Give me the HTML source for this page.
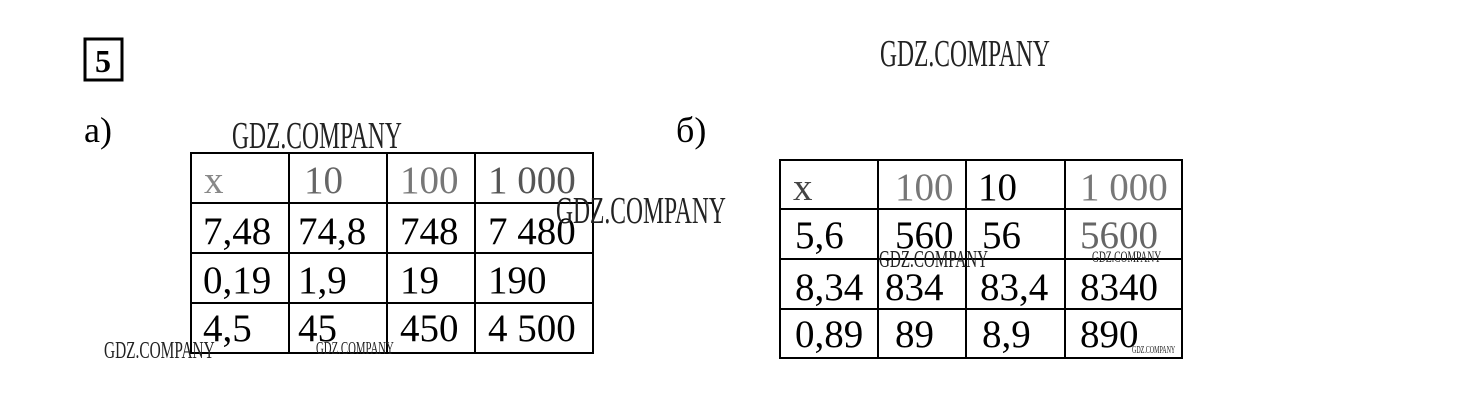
<!DOCTYPE html>
<html><head><meta charset="utf-8"><style>
html,body{margin:0;padding:0;background:#fff;width:1460px;height:407px;overflow:hidden}
svg text{font-family:"Liberation Serif",serif}
.w{font-family:"Liberation Sans",sans-serif;fill:#222}
</style></head><body>
<svg width="1460" height="407" xmlns="http://www.w3.org/2000/svg">
<rect x="85" y="39" width="37" height="41" fill="none" stroke="#000" stroke-width="3"/>
<text x="103" y="72" font-size="32" font-weight="bold" text-anchor="middle">5</text>
<text x="84" y="142" font-size="36">а)</text>
<text x="676" y="142" font-size="36">б)</text>
<g stroke="#000" stroke-width="2" fill="none">
<rect x="191" y="153" width="402" height="200"/>
<line x1="191" y1="203" x2="593" y2="203"/><line x1="191" y1="253" x2="593" y2="253"/><line x1="191" y1="303" x2="593" y2="303"/>
<line x1="289" y1="153" x2="289" y2="353"/><line x1="387" y1="153" x2="387" y2="353"/><line x1="475" y1="153" x2="475" y2="353"/>
<rect x="780" y="160" width="402" height="198"/>
<line x1="780" y1="209" x2="1182" y2="209"/><line x1="780" y1="259" x2="1182" y2="259"/><line x1="780" y1="309" x2="1182" y2="309"/>
<line x1="878" y1="160" x2="878" y2="358"/><line x1="966" y1="160" x2="966" y2="358"/><line x1="1065" y1="160" x2="1065" y2="358"/>
</g>
<g font-size="39">
<text x="204" y="193" fill="#888">x</text><text x="304" y="193" fill="#666">10</text><text x="400" y="193" fill="#777">100</text><text x="488" y="193" fill="#555">1 000</text>
<text x="203" y="244">7,48</text><text x="298" y="244">74,8</text><text x="400" y="244">748</text><text x="488" y="244">7 480</text>
<text x="203" y="293">0,19</text><text x="298" y="293">1,9</text><text x="400" y="293">19</text><text x="488" y="293">190</text>
<text x="203" y="341">4,5</text><text x="298" y="341">45</text><text x="400" y="341">450</text><text x="488" y="341">4 500</text>
<text x="793" y="200" fill="#444">x</text><text x="895" y="200" fill="#777">100</text><text x="978" y="200">10</text><text x="1080" y="200" fill="#777">1 000</text>
<text x="795" y="248">5,6</text><text x="895" y="248">560</text><text x="982" y="248">56</text><text x="1080" y="248" fill="#666">5600</text>
<text x="795" y="300">8,34</text><text x="885" y="300">834</text><text x="980" y="300">83,4</text><text x="1080" y="300">8340</text>
<text x="795" y="347">0,89</text><text x="895" y="347">89</text><text x="982" y="347">8,9</text><text x="1080" y="347">890</text>
</g>
<g class="w">
<text x="0" y="0" font-size="38" transform="translate(880,66) scale(0.62,1)">GDZ.COMPANY</text>
<text x="0" y="0" font-size="38" transform="translate(232,148) scale(0.62,1)">GDZ.COMPANY</text>
<text x="0" y="0" font-size="38" transform="translate(556,223) scale(0.62,1)">GDZ.COMPANY</text>
<text x="0" y="0" font-size="24" transform="translate(104,358) scale(0.64,1)">GDZ.COMPANY</text>
<text x="0" y="0" font-size="18" transform="translate(316,354) scale(0.6,1)">GDZ.COMPANY</text>
<text x="0" y="0" font-size="24" transform="translate(879,267) scale(0.63,1)">GDZ.COMPANY</text>
<text x="0" y="0" font-size="16" transform="translate(1092,262) scale(0.6,1)">GDZ.COMPANY</text>
<text x="0" y="0" font-size="10" transform="translate(1132,353) scale(0.6,1)">GDZ.COMPANY</text>
</g>
</svg>
</body></html>
